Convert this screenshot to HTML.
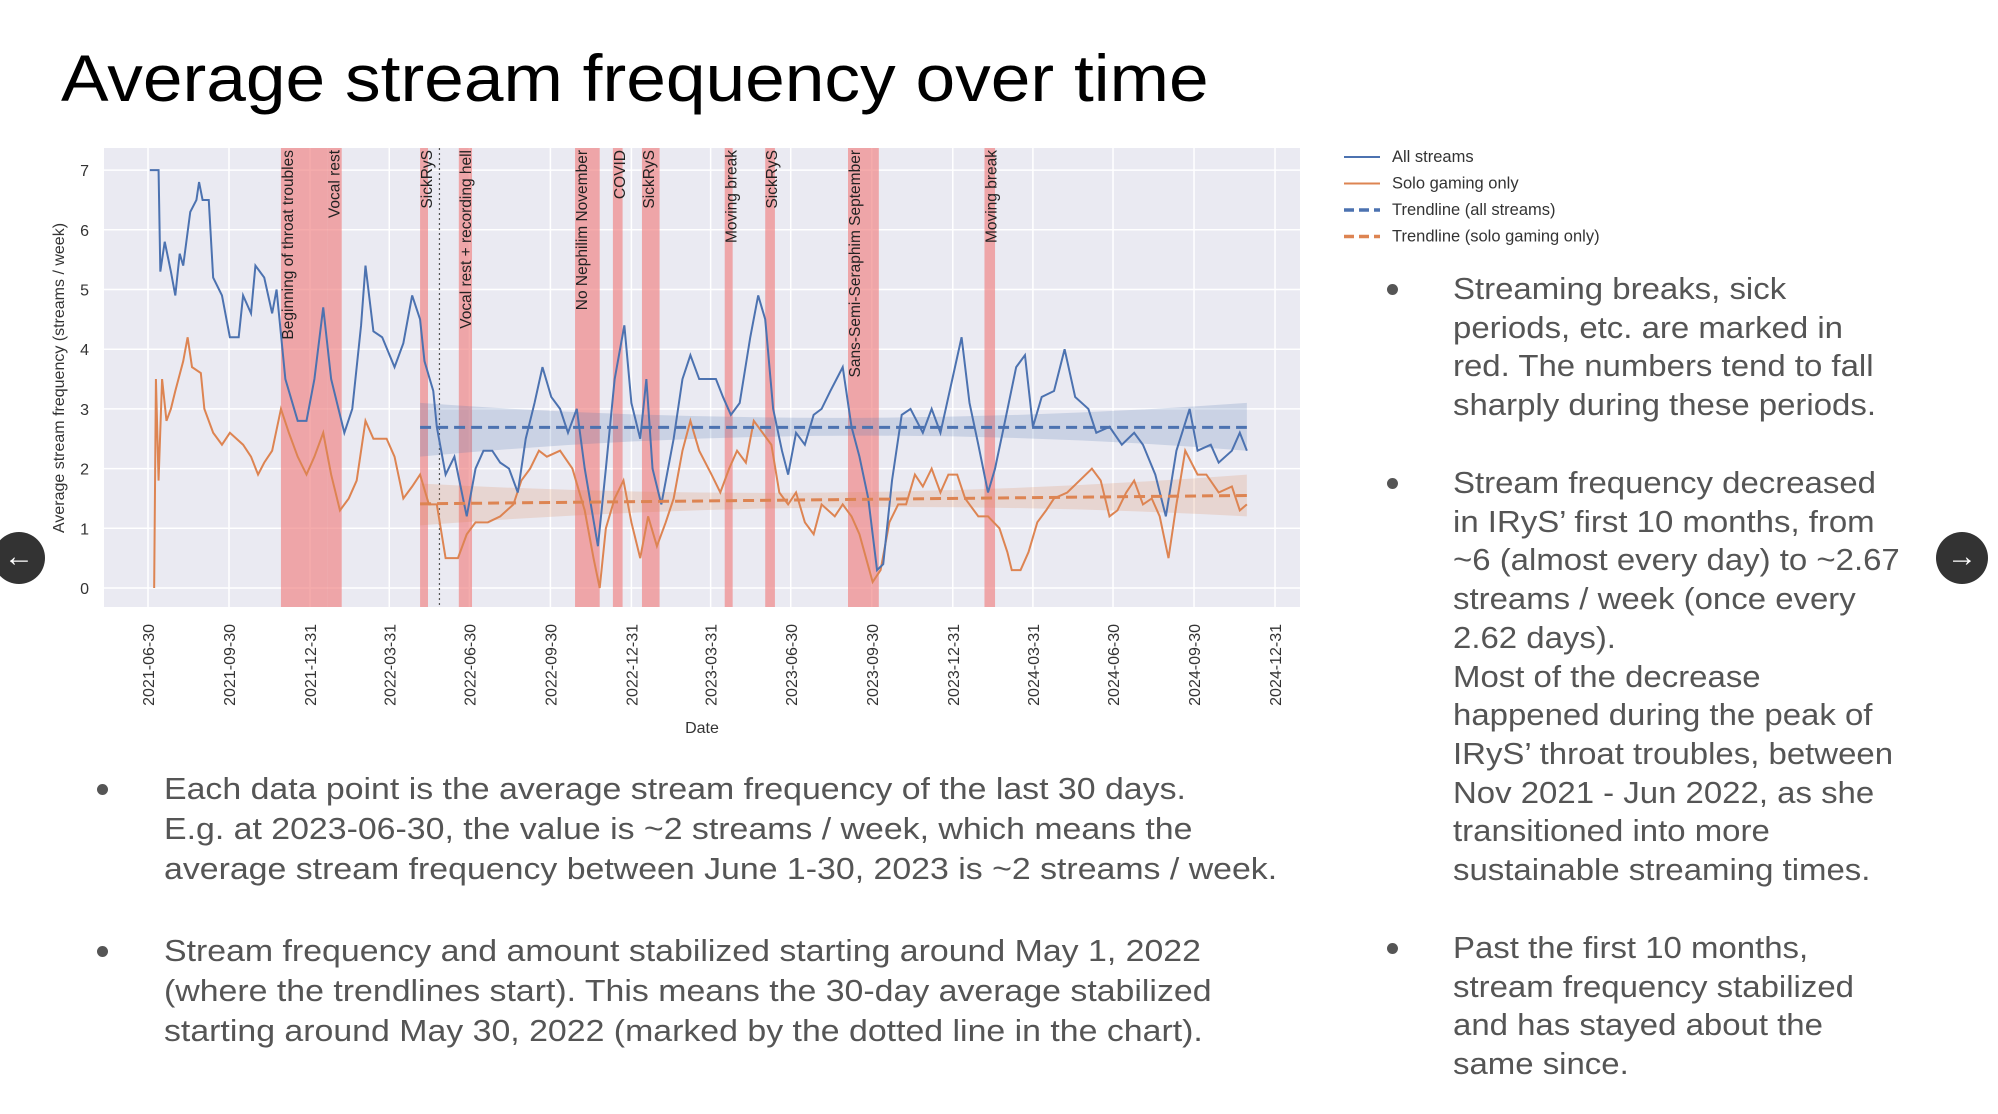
<!DOCTYPE html>
<html><head><meta charset="utf-8"><style>
body{margin:0;width:1998px;height:1114px;background:#fff;position:relative;overflow:hidden;font-family:"Liberation Sans",sans-serif}
.t{position:absolute;color:#555;font-size:30.5px;line-height:40px;white-space:nowrap;transform-origin:0 0}
.b{transform:scaleX(1.11)}
.r{transform:scaleX(1.08)}
.dot{position:absolute;width:11px;height:11px;border-radius:50%;background:#555}
</style></head><body>
<div style="position:absolute;left:61px;top:40px;font-size:66px;color:#000;white-space:nowrap;transform:scaleX(1.08);transform-origin:0 0">Average stream frequency over time</div>
<svg id="chart" width="1998" height="760" style="position:absolute;left:0;top:0" font-family="Liberation Sans, DejaVu Sans, sans-serif"></svg>

<div class="dot" style="left:97px;top:784px"></div>
<div class="t b" style="left:164px;top:769px">Each data point is the average stream frequency of the last 30 days.<br>E.g. at 2023-06-30, the value is ~2 streams / week, which means the<br>average stream frequency between June 1-30, 2023 is ~2 streams / week.</div>
<div class="dot" style="left:97px;top:946px"></div>
<div class="t b" style="left:164px;top:931px">Stream frequency and amount stabilized starting around May 1, 2022<br>(where the trendlines start). This means the 30-day average stabilized<br>starting around May 30, 2022 (marked by the dotted line in the chart).</div>

<div class="dot" style="left:1387px;top:284px"></div>
<div class="t r" style="left:1453px;top:270px;line-height:38.7px">Streaming breaks, sick<br>periods, etc. are marked in<br>red. The numbers tend to fall<br>sharply during these periods.</div>
<div class="dot" style="left:1387px;top:478px"></div>
<div class="t r" style="left:1453px;top:464px;line-height:38.7px">Stream frequency decreased<br>in IRyS’ first 10 months, from<br>~6 (almost every day) to ~2.67<br>streams / week (once every<br>2.62 days).<br>Most of the decrease<br>happened during the peak of<br>IRyS’ throat troubles, between<br>Nov 2021 - Jun 2022, as she<br>transitioned into more<br>sustainable streaming times.</div>
<div class="dot" style="left:1387px;top:943px"></div>
<div class="t r" style="left:1453px;top:929px;line-height:38.7px">Past the first 10 months,<br>stream frequency stabilized<br>and has stayed about the<br>same since.</div>

<div style="position:absolute;left:-7px;top:532px;width:52px;height:52px;border-radius:50%;background:#333;color:#fff;font-size:30px;line-height:50px;text-align:center">&#8592;</div>
<div style="position:absolute;left:1936px;top:532px;width:52px;height:52px;border-radius:50%;background:#333;color:#fff;font-size:30px;line-height:50px;text-align:center">&#8594;</div>

<script>
const allDays=[2,12,14,19,26,31,36,40,48,55,58,62,69,74,84,93,103,108,117,122,132,141,146,156,170,180,189,199,208,223,232,242,247,256,266,280,290,300,309,314,324,328,338,348,362,372,381,391,400,410,420,429,439,448,458,468,477,487,496,511,520,530,541,549,559,566,573,583,597,607,616,626,645,653,662,672,684,693,701,710,720,727,736,746,756,765,775,789,799,808,818,828,835,845,856,866,880,890,900,909,924,933,943,954,962,972,986,996,1005,1015,1029,1041,1053,1068,1077,1092,1106,1120,1130,1144,1156,1168,1183,1192,1207,1216,1231,1240,1248];
const allVals=[7,7,5.3,5.8,5.3,4.9,5.6,5.4,6.3,6.5,6.8,6.5,6.5,5.2,4.9,4.2,4.2,4.9,4.6,5.4,5.2,4.6,5.0,3.5,2.8,2.8,3.5,4.7,3.5,2.6,3.0,4.4,5.4,4.3,4.2,3.7,4.1,4.9,4.5,3.8,3.3,2.7,1.9,2.2,1.2,2.0,2.3,2.3,2.1,2.0,1.6,2.5,3.1,3.7,3.2,3.0,2.6,3.0,2.0,0.7,2.0,3.5,4.4,3.1,2.5,3.5,2.0,1.4,2.5,3.5,3.9,3.5,3.5,3.2,2.9,3.1,4.2,4.9,4.5,3.0,2.3,1.9,2.6,2.4,2.9,3.0,3.3,3.7,2.7,2.2,1.5,0.3,0.4,1.8,2.9,3.0,2.6,3.0,2.6,3.2,4.2,3.1,2.4,1.6,2.0,2.7,3.7,3.9,2.7,3.2,3.3,4.0,3.2,3.0,2.6,2.7,2.4,2.6,2.4,1.9,1.2,2.3,3.0,2.3,2.4,2.1,2.3,2.6,2.3];
const soloDays=[7,9,12,16,21,26,31,40,45,50,60,64,74,84,93,108,117,125,132,141,151,160,170,180,189,199,208,218,228,237,247,256,271,280,290,300,309,319,328,338,352,362,372,386,400,415,424,434,444,453,468,482,496,506,513,520,530,540,549,559,568,578,588,597,607,616,626,640,650,660,669,679,688,698,708,717,727,736,746,756,765,780,789,799,808,823,832,842,852,861,871,880,890,900,909,919,928,943,954,967,976,981,991,1000,1010,1020,1029,1044,1058,1072,1082,1092,1101,1111,1120,1130,1140,1149,1159,1168,1178,1192,1202,1216,1231,1240,1248];
const soloVals=[0,3.5,1.8,3.5,2.8,3.0,3.3,3.8,4.2,3.7,3.6,3.0,2.6,2.4,2.6,2.4,2.2,1.9,2.1,2.3,3.0,2.6,2.2,1.9,2.2,2.6,1.9,1.3,1.5,1.8,2.8,2.5,2.5,2.2,1.5,1.7,1.9,1.4,1.4,0.5,0.5,0.9,1.1,1.1,1.2,1.4,1.8,2.0,2.3,2.2,2.3,2.0,1.3,0.5,0.0,1.0,1.5,1.8,1.1,0.5,1.2,0.7,1.1,1.5,2.3,2.8,2.3,1.9,1.6,2.0,2.3,2.1,2.8,2.6,2.4,1.6,1.4,1.6,1.1,0.9,1.4,1.2,1.4,1.2,0.9,0.1,0.3,1.1,1.4,1.4,1.9,1.7,2.0,1.6,1.9,1.9,1.5,1.2,1.2,1.0,0.6,0.3,0.3,0.6,1.1,1.3,1.5,1.6,1.8,2.0,1.8,1.2,1.3,1.6,1.8,1.4,1.5,1.2,0.5,1.4,2.3,1.9,1.9,1.6,1.7,1.3,1.4];
const bandStart=[151,204,309,353,485,528,561,655,701,795,950];
const bandEnd=[204,220,318,368,513,539,581,664,712,830,962];
const bandLabels=["Beginning of throat troubles","Vocal rest","SickRyS","Vocal rest + recording hell","No Nephilim November","COVID","SickRyS","Moving break","SickRyS","Sans-Semi-Seraphim September","Moving break"];
const trendAll=[2.69,2.69];const trendAllLo=[2.2,2.55,2.3];const trendAllHi=[3.1,2.85,3.1];
const trendSolo=[1.41,1.55];const trendSoloLo=[1.05,1.35,1.2];const trendSoloHi=[1.75,1.6,1.9];
const trendDays=[309,1248];const stableDay=331;
const xTickLabels=["2021-06-30","2021-09-30","2021-12-31","2022-03-31","2022-06-30","2022-09-30","2022-12-31","2023-03-31","2023-06-30","2023-09-30","2023-12-31","2024-03-31","2024-06-30","2024-09-30","2024-12-31"];
const yTicks=[0,1,2,3,4,5,6,7];

const svg=document.getElementById('chart');const NS='http://www.w3.org/2000/svg';
const L=104,R=1300,T=148,B=607;
const x=d=>148+d*0.8805;const y=v=>588-v*59.7;
const dayOf=s=>(Date.parse(s)-Date.parse("2021-06-30"))/86400000;
function mk(tag,attrs,parent){const e=document.createElementNS(NS,tag);for(const k in attrs)e.setAttribute(k,attrs[k]);(parent||svg).appendChild(e);return e;}
let e=mk('rect',{x:L,y:T,width:R-L,height:B-T,fill:'#eaeaf2'});

yTicks.forEach(v=>{let g=mk('line',{x1:L,x2:R,y1:y(v),y2:y(v),stroke:'#fff','stroke-width':1.5});

let t=mk('text',{x:89,y:y(v)+6,'text-anchor':'end','font-size':16,fill:'#333'});t.textContent=v;
});
xTickLabels.forEach(s=>{const X=x(dayOf(s));let g=mk('line',{x1:X,x2:X,y1:T,y2:B,stroke:'#fff','stroke-width':1.5});

let t=mk('text',{x:0,y:0,'text-anchor':'end','font-size':16,fill:'#333',transform:`translate(${X+6},624) rotate(-90)`});t.textContent=s;
});
bandStart.forEach((s,i)=>{let r=mk('rect',{x:x(s),y:T,width:x(bandEnd[i])-x(s),height:B-T,fill:'#f08080','fill-opacity':0.65});

let t=mk('text',{x:0,y:0,'text-anchor':'end','font-size':15.5,fill:'#222',transform:`translate(${x(s)+12},${T+2}) rotate(-90)`});t.textContent=bandLabels[i];
});
e=mk('line',{x1:x(stableDay),x2:x(stableDay),y1:T,y2:B,stroke:'#555','stroke-width':1.2,'stroke-dasharray':'2,3'});

function band(lo,hi,col,name){const d0=trendDays[0],d1=trendDays[1],dm=(d0+d1)/2;
const p=`M${x(d0)},${y(hi[0])} Q${x(dm)},${y(hi[1])*2-(y(hi[0])+y(hi[2]))/2} ${x(d1)},${y(hi[2])} L${x(d1)},${y(lo[2])} Q${x(dm)},${y(lo[1])*2-(y(lo[0])+y(lo[2]))/2} ${x(d0)},${y(lo[0])}Z`;
let b=mk('path',{d:p,fill:col,'fill-opacity':0.2});}
band(trendAllLo,trendAllHi,'#4c72b0','trend-all-ci');band(trendSoloLo,trendSoloHi,'#dd8452','trend-solo-ci');
function line(ds,vs,col,name){let p=mk('polyline',{points:ds.map((d,i)=>x(d)+','+y(vs[i])).join(' '),fill:'none',stroke:col,'stroke-width':2});
}
line(soloDays,soloVals,'#dd8452','series-solo-gaming');
line(allDays,allVals,'#4c72b0','series-all-streams');
e=mk('line',{x1:x(trendDays[0]),x2:x(trendDays[1]),y1:y(trendAll[0]),y2:y(trendAll[1]),stroke:'#4c72b0','stroke-width':3,'stroke-dasharray':'11,6'});

e=mk('line',{x1:x(trendDays[0]),x2:x(trendDays[1]),y1:y(trendSolo[0]),y2:y(trendSolo[1]),stroke:'#dd8452','stroke-width':3,'stroke-dasharray':'11,6'});

let t=mk('text',{x:0,y:0,'text-anchor':'middle','font-size':16,fill:'#333',transform:'translate(64,378) rotate(-90)'});t.textContent='Average stream frequency (streams / week)';

t=mk('text',{x:702,y:733,'text-anchor':'middle','font-size':16,fill:'#333'});t.textContent='Date';

const legNames=['All streams','Solo gaming only','Trendline (all streams)','Trendline (solo gaming only)'];
const legCols=['#4c72b0','#dd8452','#4c72b0','#dd8452'];
legNames.forEach((n,i)=>{const Y=157+i*26.5;let l=mk('line',{x1:1344,x2:1380,y1:Y,y2:Y,stroke:legCols[i],'stroke-width':i<2?2:3.5,'stroke-dasharray':i<2?'none':'10,5'});

let tt=mk('text',{x:1392,y:Y+5,'font-size':16.5,fill:'#333'});tt.textContent=n;
});
</script>
</body></html>
